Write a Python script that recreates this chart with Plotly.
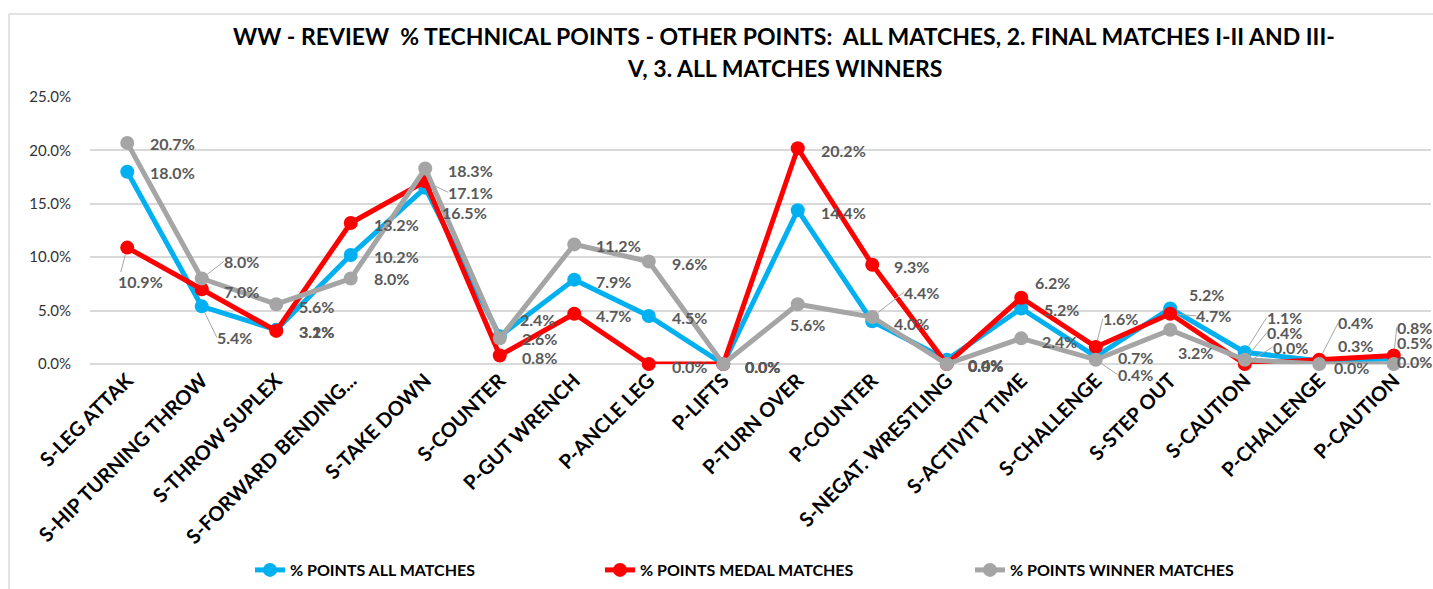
import plotly.graph_objects as go

# ---- data -------------------------------------------------------------
categories = [
    "S-LEG ATTAK", "S-HIP TURNING THROW", "S-THROW SUPLEX", "S-FORWARD BENDING...",
    "S-TAKE DOWN", "S-COUNTER", "P-GUT WRENCH", "P-ANCLE LEG", "P-LIFTS",
    "P-TURN OVER", "P-COUNTER", "S-NEGAT. WRESTLING", "S-ACTIVITY TIME",
    "S-CHALLENGE", "S-STEP OUT", "S-CAUTION", "P-CHALLENGE", "P-CAUTION",
]

# percent of points
all_matches = [18.0, 5.4, 3.2, 10.2, 16.5, 2.6, 7.9, 4.5, 0.0, 14.4, 4.0, 0.4, 5.2, 0.7, 5.2, 1.1, 0.3, 0.5]
medal_matches = [10.9, 7.0, 3.1, 13.2, 17.1, 0.8, 4.7, 0.0, 0.0, 20.2, 9.3, 0.0, 6.2, 1.6, 4.7, 0.0, 0.4, 0.8]
winner_matches = [20.7, 8.0, 5.6, 8.0, 18.3, 2.4, 11.2, 9.6, 0.0, 5.6, 4.4, 0.0, 2.4, 0.4, 3.2, 0.4, 0.0, 0.0]

series_names = ["% POINTS ALL MATCHES", "% POINTS MEDAL MATCHES", "% POINTS WINNER MATCHES"]
y_ticks = [0, 5, 10, 15, 20, 25]

title_lines = [
    "WW - REVIEW  % TECHNICAL POINTS - OTHER POINTS:  ALL MATCHES, 2. FINAL MATCHES I-II AND III-",
    "V, 3. ALL MATCHES WINNERS",
]

# ---- styling ----------------------------------------------------------
colors = ["#00B0F0", "#FF0000", "#A5A5A5"]
FONT = "Lato, 'Open Sans', Arial, sans-serif"
LABEL_COLOR = "#595959"
GRID = "#D9D9D9"

W, H = 1433, 589
M_L, M_R, M_T, M_B = 90, 2, 97, 225
PW, PH = W - M_L - M_R, H - M_T - M_B


def px_x(px):
    return (px - M_L) / PW


def px_y(py):
    return (H - M_B - py) / PH


# data-label placement: (dx to label's left edge, dy to label centre, leader line)
label_layout = [
    [(24, 1, 0), (16, 31, 1), (24, 2, 0), (24, 1, 0), (18, 25, 0), (23, 2, 0), (23, 2, 0), (24, 2, 0),
     (23, 2, 0), (24, 2, 0), (23, 2, 0), (22, 5, 0), (24, 1, 0), (23, 1, 0), (20, -14, 0), (23, -35, 1),
     (20, -15, 0), (4, -16, 0)],
    [(-8, 34, 1), (23, 2, 0), (24, 1, 0), (24, 1, 0), (24, 11, 1), (23, 2, 0), (23, 2, 0), (24, 2, 0),
     (23, 2, 0), (24, 2, 0), (23, 2, 0), (22, 1, 0), (15, -15, 0), (8, -28, 1), (27, 2, 1), (29, -17, 1),
     (20, -37, 1), (4, -28, 1)],
    [(24, 1, 0), (23, -17, 1), (24, 2, 0), (24, 0, 0), (24, 2, 0), (21, -19, 0), (23, 1, 0), (24, 2, 0),
     (23, 2, 0), (-7, 20, 0), (33, -25, 1), (22, 1, 0), (22, 3, 0), (23, 15, 1), (9, 23, 0), (23, -27, 1),
     (16, 3, 0), (4, -3, 0)],
]

fig = go.Figure()
legend_ids = ["legend", "legend2", "legend3"]
for vals, name, col, lg in zip([all_matches, medal_matches, winner_matches], series_names, colors, legend_ids):
    fig.add_trace(go.Scatter(
        x=categories, y=[v / 100 for v in vals], name=name, mode="lines+markers",
        line=dict(color=col, width=5), marker=dict(color=col, size=14),
        cliponaxis=False, legend=lg,
    ))

annotations = []
for vals, layout in zip([all_matches, medal_matches, winner_matches], label_layout):
    for cat, v, (dx, dy, lead) in zip(categories, vals, layout):
        common = dict(
            x=cat, y=v / 100, text=f"{v:.1f}%", xanchor="left", yanchor="middle",
            font=dict(family=FONT, size=16, color=LABEL_COLOR, weight="bold"),
            borderpad=0, borderwidth=0,
        )
        if lead:
            annotations.append(dict(
                **common, showarrow=True, ax=dx - 1, ay=dy, arrowhead=0, arrowwidth=1,
                arrowcolor="#A6A6A6", standoff=7,
            ))
        else:
            annotations.append(dict(**common, showarrow=False, xshift=dx - 1, yshift=-dy))

# two-line chart title
for line, ty in zip(title_lines, [36, 68]):
    annotations.append(dict(
        x=px_x(784), y=px_y(ty), xref="paper", yref="paper", text=line, showarrow=False,
        xanchor="center", yanchor="middle",
        font=dict(family=FONT, size=23, color="#000000", weight="bold"),
    ))

# chart-area frame (top and left edges)
shapes = [
    dict(type="line", xref="paper", yref="paper", x0=px_x(9), x1=px_x(W + 5), y0=px_y(14), y1=px_y(14),
         line=dict(color=GRID, width=1.5)),
    dict(type="line", xref="paper", yref="paper", x0=px_x(9), x1=px_x(9), y0=px_y(14), y1=px_y(H + 5),
         line=dict(color=GRID, width=1.5)),
]

legend_style = dict(
    orientation="h", xanchor="left", yanchor="middle", y=px_y(570),
    font=dict(family=FONT, size=16, color="#000000", weight="bold"),
    bgcolor="rgba(0,0,0,0)", borderwidth=0,
)

fig.update_layout(
    width=W, height=H,
    margin=dict(l=M_L, r=M_R, t=M_T, b=M_B),
    plot_bgcolor="white", paper_bgcolor="white",
    showlegend=True,
    legend=dict(**legend_style, x=px_x(250)),
    legend2=dict(**legend_style, x=px_x(600)),
    legend3=dict(**legend_style, x=px_x(970)),
    annotations=annotations,
    shapes=shapes,
    xaxis=dict(
        type="category", range=[-0.5, len(categories) - 0.5], tickangle=-45,
        showgrid=False, showline=False, ticks="",
        tickfont=dict(family=FONT, size=20, color="#000000", weight="bold"),
    ),
    yaxis=dict(
        range=[0, 0.25], tickvals=[t / 100 for t in y_ticks], tickformat=".1%",
        showgrid=True, gridcolor=GRID, gridwidth=1.5, zeroline=True, zerolinecolor=GRID,
        zerolinewidth=1.5, showline=False, ticks="",
        tickfont=dict(family=FONT, size=15, color="#333333"), ticklabelstandoff=18,
    ),
)

fig.write_html("out.html")
